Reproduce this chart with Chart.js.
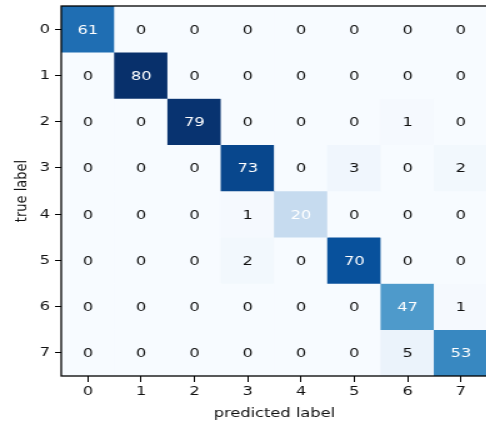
<!DOCTYPE html>
<html>
<head>
<meta charset="utf-8">
<script src="https://cdn.jsdelivr.net/npm/chart.js@4/dist/chart.umd.min.js"></script>
<style>
  html, body { margin: 0; padding: 0; background: #fff; overflow: hidden; }
  /* the figure is drawn narrow and stretched sideways */
  #wrap { width: 390px; height: 425px; transform: scaleX(1.25); transform-origin: 0 0; }
</style>
</head>
<body>
<div id="wrap"><canvas id="canvas-1" width="390" height="425"></canvas></div>
<script>
// class labels on both axes
const predictedLabels = ['0', '1', '2', '3', '4', '5', '6', '7'];
const trueLabels = ['0', '1', '2', '3', '4', '5', '6', '7'];

// confusion matrix, one array per true label
const row0 = [61, 0, 0, 0, 0, 0, 0, 0];
const row1 = [0, 80, 0, 0, 0, 0, 0, 0];
const row2 = [0, 0, 79, 0, 0, 0, 1, 0];
const row3 = [0, 0, 0, 73, 0, 3, 0, 2];
const row4 = [0, 0, 0, 1, 20, 0, 0, 0];
const row5 = [0, 0, 0, 2, 0, 70, 0, 0];
const row6 = [0, 0, 0, 0, 0, 0, 47, 1];
const row7 = [0, 0, 0, 0, 0, 0, 5, 53];
const counts = [row0, row1, row2, row3, row4, row5, row6, row7];

const whiteAbove = 10; // counts above this get white text

// matplotlib "Blues" stops
const blues = [
    [247, 251, 255], [222, 235, 247], [198, 219, 239], [158, 202, 225],
    [107, 174, 214], [66, 146, 198], [33, 113, 181], [8, 81, 156], [8, 48, 107]
];
const vmax = Math.max(...counts.flat());

function bluesColor(v) {
    let t = Math.min(Math.max(v / vmax, 0), 1) * (blues.length - 1);
    let i = Math.min(Math.floor(t), blues.length - 2);
    let f = t - i;
    let c = blues[i].map((a, k) => Math.round(a + (blues[i + 1][k] - a) * f));
    return 'rgb(' + c.join(',') + ')';
}

Chart.defaults.font.family = 'DejaVu Sans';
Chart.defaults.font.size = 13;
Chart.defaults.color = '#111';

// each true label row is a dataset of floating bars spanning r-0.5..r+0.5
const datasets = counts.map((row, r) => ({
    label: trueLabels[r],
    data: predictedLabels.map(() => [r - 0.5, r + 0.5]),
    backgroundColor: row.map(v => bluesColor(v)),
    borderWidth: 0,
    barPercentage: 1,
    categoryPercentage: 1
}));

// numbers in the cells
const cellText = {
    id: 'cellText',
    afterDatasetsDraw(chart) {
        const ctx = chart.ctx;
        ctx.save();
        ctx.font = '13px "DejaVu Sans"';
        ctx.textAlign = 'center';
        ctx.textBaseline = 'middle';
        chart.data.datasets.forEach((ds, r) => {
            chart.getDatasetMeta(r).data.forEach((bar, c) => {
                const v = counts[r][c];
                ctx.fillStyle = v > whiteAbove ? '#fff' : '#111';
                ctx.fillText(String(v), bar.x, (bar.y + bar.base) / 2 + 1);
            });
        });
        ctx.restore();
    }
};

// black frame round the plot
const frame = {
    id: 'frame',
    afterDraw(chart) {
        const a = chart.chartArea;
        const ctx = chart.ctx;
        ctx.save();
        ctx.strokeStyle = '#000';
        ctx.lineWidth = 1.3;
        ctx.strokeRect(a.left, a.top, a.right - a.left, a.bottom - a.top);
        ctx.restore();
    }
};

function noPadding(scale) {
    scale.paddingTop = 0;
    scale.paddingBottom = 0;
    scale.paddingLeft = 0;
    scale.paddingRight = 0;
}

new Chart(document.getElementById('canvas-1').getContext('2d'), {
    type: 'bar',
    data: { labels: predictedLabels, datasets: datasets },
    options: {
        responsive: false,
        animation: false,
        layout: { padding: { top: 6, left: 0, right: 0, bottom: 0 } },
        plugins: { legend: { display: false }, tooltip: { enabled: false } },
        scales: {
            x: {
                type: 'category',
                offset: true,
                stacked: true,
                grid: { offset: false, drawOnChartArea: false, tickLength: 6, color: '#000', lineWidth: 1 },
                border: { display: false },
                ticks: { padding: 2, maxRotation: 0 },
                title: { display: true, text: 'predicted label', padding: { top: 0, bottom: 4 } },
                afterFit(scale) { scale.height = 49; noPadding(scale); }
            },
            y: {
                type: 'linear',
                min: -0.5,
                max: 7.5,
                reverse: true,
                stacked: false,
                grid: { drawOnChartArea: false, tickLength: 5, color: '#000', lineWidth: 1 },
                border: { display: false },
                ticks: { padding: 4, callback: v => trueLabels[v] },
                afterBuildTicks(scale) { scale.ticks = trueLabels.map((_, i) => ({ value: i })); },
                title: { display: true, text: 'true label', padding: { top: 10, bottom: 0 } },
                afterFit(scale) { scale.width = 49; noPadding(scale); }
            }
        }
    },
    plugins: [cellText, frame]
});
</script>
</body>
</html>
